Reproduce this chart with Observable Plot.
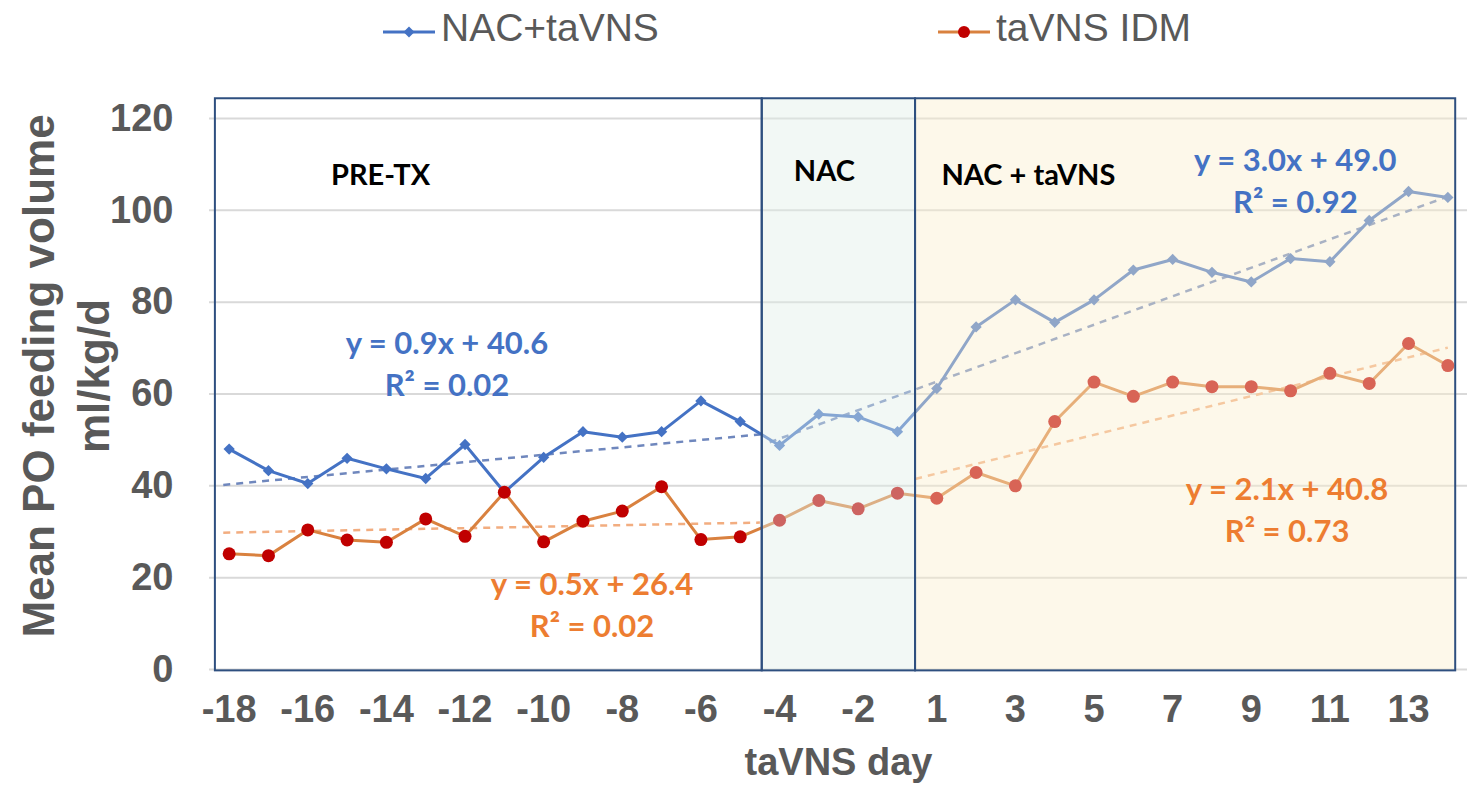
<!DOCTYPE html>
<html>
<head>
<meta charset="utf-8">
<script src="https://cdn.jsdelivr.net/npm/d3@7"></script>
<script src="https://cdn.jsdelivr.net/npm/@observablehq/plot@0.6"></script>
<style>
  html, body { margin: 0; padding: 0; background: #ffffff; }
  body { width: 1477px; height: 798px; overflow: hidden; font-family: "Liberation Sans", Arial, sans-serif; }
  #legend { position: relative; width: 1477px; height: 70px; }
  #legend .sw { position: absolute; top: 21.7px; }
  #legend .lab { position: absolute; top: 7.7px; font-size: 39px; line-height: 1; color: #595959; white-space: nowrap; }
  #chart svg { display: block; overflow: visible; }
</style>
</head>
<body>
<div id="legend"></div>
<div id="chart"></div>
<script>
// ---- data ----
const days = [-18,-17,-16,-15,-14,-13,-12,-11,-10,-9,-8,-7,-6,-5,-4,-3,-2,-1,1,2,3,4,5,6,7,8,9,10,11,12,13,14];
const nacTavns = [48.0,43.3,40.5,46.0,43.7,41.6,49.0,38.6,46.2,51.8,50.6,51.8,58.5,54.0,48.8,55.6,55.0,51.8,61.2,74.6,80.5,75.6,80.5,87.0,89.3,86.5,84.4,89.5,88.8,97.8,104.1,102.8];
const tavnsIdm = [25.2,24.8,30.4,28.2,27.7,32.8,29.0,38.6,27.8,32.3,34.5,39.8,28.3,28.9,32.5,36.8,35.0,38.4,37.3,42.9,40.0,54.0,62.6,59.5,62.6,61.6,61.6,60.7,64.5,62.3,71.0,66.2];
const seriesNames = ["NAC+taVNS", "taVNS IDM"];
const xTickDays = [-18,-16,-14,-12,-10,-8,-6,-4,-2,1,3,5,7,9,11,13];
const yTicks = [0,20,40,60,80,100,120];
const xTitle = "taVNS day";
const yTitleLines = ["Mean PO feeding volume", "ml/kg/d"];

// phases (positions in day-index units, values in ml/kg/d)
const phaseNames = ["PRE-TX", "NAC", "NAC + taVNS"];
const phaseFrom = [-0.35, 13.56, 17.46];
const phaseTo = [13.56, 17.46, 31.2];
const phaseLabelX = [3.85, 15.14, 20.33];
const phaseLabelY = [107.6, 108.5, 107.6];

// trend lines (index from/to, value from/to)
const blueTrendFrom = [[-0.15, 40.2], [13.75, 49.5]];
const blueTrendTo = [[13.5, 51.2], [31, 103.0]];
const orangeTrendFrom = [[-0.15, 29.8], [17.45, 41.5]];
const orangeTrendTo = [[13.5, 32.0], [31, 70.1]];

// regression labels
const blueEq = ["y = 0.9x + 40.6\nR² = 0.02", "y = 3.0x + 49.0\nR² = 0.92"];
const blueEqX = [5.54, 27.12];
const blueEqY = [67.1, 107.0];
const orangeEq = ["y = 0.5x + 26.4\nR² = 0.02", "y = 2.1x + 40.8\nR² = 0.73"];
const orangeEqX = [9.23, 26.91];
const orangeEqY = [14.5, 35.3];

// ---- styling ----
const BLUE = "#4472c4", ORANGE_LINE = "#d9813f", RED = "#c00000";
const BLUE_TEXT = "#4472c4", ORANGE_TEXT = "#ed7d31";
const GRAY = "#595959";

// ---- tables ----
const rows = days.map((d, i) => ({i, day: d, blue: nacTavns[i], orange: tavnsIdm[i]}));
const trends = [
  ...blueTrendFrom.map((f, k) => ({x1: f[0], y1: f[1], x2: blueTrendTo[k][0], y2: blueTrendTo[k][1], c: "#6f87bd"})),
  ...orangeTrendFrom.map((f, k) => ({x1: f[0], y1: f[1], x2: orangeTrendTo[k][0], y2: orangeTrendTo[k][1], c: "#f2ad80"}))
];
const phaseFill = [null, "#e1eee6", "#faeecd"];
const phases = phaseNames.map((n, k) => ({name: n, x1: phaseFrom[k], x2: phaseTo[k], lx: phaseLabelX[k], ly: phaseLabelY[k], fill: phaseFill[k]}));
const eqs = [
  ...blueEq.map((t, k) => ({t, x: blueEqX[k], y: blueEqY[k], c: BLUE_TEXT})),
  ...orangeEq.map((t, k) => ({t, x: orangeEqX[k], y: orangeEqY[k], c: ORANGE_TEXT}))
];
const xTickIdx = xTickDays.map(d => days.indexOf(d));

const sqDiamond = {
  draw(ctx, size) {
    const h = Math.sqrt(size / 2);
    ctx.moveTo(0, -h); ctx.lineTo(h, 0); ctx.lineTo(0, h); ctx.lineTo(-h, 0); ctx.closePath();
  }
};

const plot = Plot.plot({
  width: 1477,
  height: 728,
  marginLeft: 209,
  marginRight: 10,
  marginTop: 48,
  marginBottom: 129,
  x: {type: "linear", domain: [-0.5, 31.5]},
  y: {domain: [0, 120]},
  style: {fontFamily: "'Liberation Sans', Arial, sans-serif", background: "transparent", overflow: "visible"},
  marks: [
    Plot.ruleY(yTicks, {stroke: "#d9d9d9", strokeWidth: 2}),
    Plot.link(trends, {x1: "x1", y1: "y1", x2: "x2", y2: "y2", stroke: "c", strokeWidth: 2.5, strokeDasharray: "7,6"}),
    Plot.line(rows, {x: "i", y: "blue", stroke: BLUE, strokeWidth: 3}),
    Plot.dot(rows, {x: "i", y: "blue", symbol: sqDiamond, r: 4.5, fill: BLUE, stroke: "none"}),
    Plot.line(rows, {x: "i", y: "orange", stroke: ORANGE_LINE, strokeWidth: 3}),
    Plot.dot(rows, {x: "i", y: "orange", r: 6.5, fill: RED, stroke: "none"}),
    Plot.rect(phases.filter(p => p.fill), {x1: "x1", x2: "x2", y1: -0.3, y2: 124.3, fill: "fill", fillOpacity: 0.42}),
    Plot.rect(phases, {x1: "x1", x2: "x2", y1: -0.3, y2: 124.3, fill: "none", stroke: "#2e4f7f", strokeWidth: 2}),
    Plot.text(phases, {x: "lx", y: "ly", text: "name", fontFamily: "Lato, 'Open Sans', sans-serif", fontWeight: "bold", fontSize: 29, fill: "#000000"}),
    Plot.text(eqs, {x: "x", y: "y", text: "t", fill: "c", fontFamily: "Lato, 'Open Sans', sans-serif", fontWeight: "bold", fontSize: 31, lineHeight: 1.36}),
    Plot.axisY({ticks: yTicks, tickSize: 0, tickPadding: 36, fontSize: 38, fontWeight: "bold", color: GRAY, label: null}),
    Plot.axisX({ticks: xTickIdx, tickFormat: i => String(days[i]), tickSize: 0, tickPadding: 26, fontSize: 38, fontWeight: "bold", color: GRAY, label: null}),
    Plot.text([xTitle], {frameAnchor: "bottom", dy: 93, lineAnchor: "middle", fontSize: 38, fontWeight: "bold", fill: GRAY}),
    Plot.text([yTitleLines[0]], {frameAnchor: "left", textAnchor: "middle", dx: -170, dy: -18, rotate: -90, lineAnchor: "middle", fontSize: 44, fontWeight: "bold", fill: GRAY}),
    Plot.text([yTitleLines[1]], {frameAnchor: "left", textAnchor: "middle", dx: -115, dy: -18, rotate: -90, lineAnchor: "middle", fontSize: 44, fontWeight: "bold", fill: GRAY})
  ]
});
document.getElementById("chart").appendChild(plot);

// ---- legend ----
const legend = document.getElementById("legend");
const legendItems = [
  {name: seriesNames[0], swLeft: 383, textLeft: 441, line: BLUE, marker: "diamond", mcol: BLUE},
  {name: seriesNames[1], swLeft: 938, textLeft: 996, line: ORANGE_LINE, marker: "circle", mcol: RED}
];
legendItems.forEach(it => {
  const ns = "http://www.w3.org/2000/svg";
  const svg = document.createElementNS(ns, "svg");
  svg.setAttribute("width", 52); svg.setAttribute("height", 20);
  svg.setAttribute("class", "sw");
  svg.style.left = it.swLeft + "px";
  const ln = document.createElementNS(ns, "line");
  ln.setAttribute("x1", 0); ln.setAttribute("x2", 52); ln.setAttribute("y1", 10); ln.setAttribute("y2", 10);
  ln.setAttribute("stroke", it.line); ln.setAttribute("stroke-width", 3);
  svg.appendChild(ln);
  if (it.marker === "diamond") {
    const p = document.createElementNS(ns, "path");
    p.setAttribute("d", "M26,4.5L31.5,10L26,15.5L20.5,10Z");
    p.setAttribute("fill", it.mcol);
    svg.appendChild(p);
  } else {
    const c = document.createElementNS(ns, "circle");
    c.setAttribute("cx", 26); c.setAttribute("cy", 10); c.setAttribute("r", 6);
    c.setAttribute("fill", it.mcol);
    svg.appendChild(c);
  }
  legend.appendChild(svg);
  const s = document.createElement("span");
  s.className = "lab";
  s.style.left = it.textLeft + "px";
  s.textContent = it.name;
  legend.appendChild(s);
});
</script>
</body>
</html>
